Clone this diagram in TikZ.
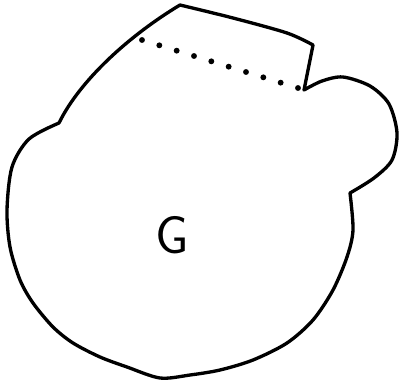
\documentclass[tikz,border=0pt]{standalone}
\usepackage{tikz}
\begin{document}
\begin{tikzpicture}[x=0.75pt, y=-0.75pt,
                    outline/.style={line width=2.5pt, line join=round, line cap=round},
                    seam/.style={line width=4.4pt, line cap=round, dash pattern=on 0pt off 13.6pt},
                    lbl/.style={font=\sffamily\fontsize{40}{40}\selectfont}]
    \useasboundingbox (0,0) rectangle (403,382);
    % corners of the outline
    \coordinate (peak) at (180,5);
    \coordinate (tabr) at (313,45);
    \coordinate (notchr) at (304,90);
    \coordinate (notchb) at (350,193);
    \coordinate (notchl) at (59,123);
    % ends of the dotted cut
    \coordinate (cutl) at (142,40);
    \coordinate (cutr) at (298,88);
    % the outline
    \draw[outline] plot[smooth, tension=0.5] coordinates {(180,5) (233,18) (287,33) (313,45)}
        -- (notchr)
        -- plot[smooth] coordinates {(304,90) (322,81) (343,77) (370,86) (389,104) (397,133)
                                     (392,160) (374,178) (350,193)}
        -- plot[smooth] coordinates {(350,193) (353,230) (347,257) (333,290) (313,320)
                                     (287,343) (253,360) (220,370) (190,375) (160,378)
                                     (127,367) (100,357) (73,343) (53,327) (33,303)
                                     (20,280) (10,247) (7,210) (12,167) (29,139) (59,123)}
        .. controls (80,80) and (130,35) .. (peak)
        -- cycle;
    \draw[seam] (cutl) -- (cutr);
    \node[lbl] (g) at (172,235) {G};
\end{tikzpicture}
\end{document}
